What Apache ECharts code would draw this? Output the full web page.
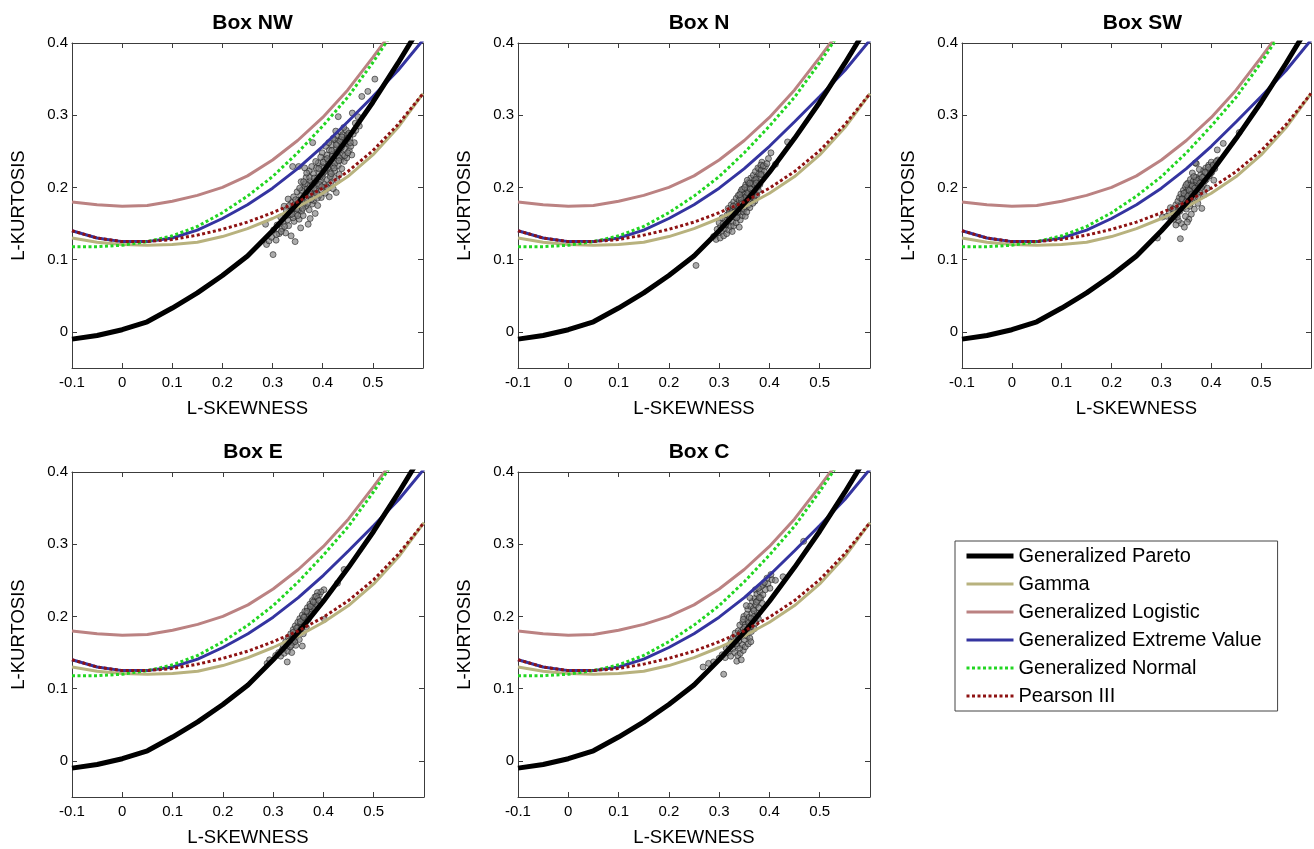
<!DOCTYPE html>
<html><head><meta charset="utf-8">
<script src="https://cdn.jsdelivr.net/npm/echarts@6/dist/echarts.min.js"></script>
<style>html,body{margin:0;padding:0;background:#fff}#c{width:1314px;height:849px}</style>
</head><body><div id="c"></div><script>
// ---- data ----
const skewGrid   = [-0.1,-0.05,0,0.05,0.1,0.15,0.2,0.25,0.3,0.35,0.4,0.45,0.5,0.55,0.6];
const paretoK    = [-0.010,-0.005,0.003,0.014,0.033,0.054,0.078,0.105,0.140,0.178,0.221,0.268,0.318,0.372,0.429];
const gammaK     = [0.130,0.124,0.121,0.120,0.121,0.124,0.132,0.143,0.157,0.173,0.192,0.215,0.245,0.283,0.330];
const logisticK  = [0.180,0.176,0.174,0.175,0.181,0.189,0.200,0.216,0.238,0.265,0.297,0.335,0.380,0.427,0.476];
const gevK       = [0.140,0.130,0.125,0.125,0.130,0.141,0.157,0.176,0.199,0.226,0.257,0.291,0.326,0.362,0.404];
const normalK    = [0.118,0.118,0.120,0.125,0.133,0.146,0.165,0.188,0.215,0.248,0.285,0.325,0.373,0.425,0.480];
const pearsonK   = [0.140,0.130,0.125,0.125,0.128,0.134,0.142,0.152,0.165,0.180,0.199,0.222,0.251,0.287,0.330];

const seriesNames = ['Generalized Pareto','Gamma','Generalized Logistic','Generalized Extreme Value','Generalized Normal','Pearson III'];
const panelTitles = ['Box NW','Box N','Box SW','Box E','Box C'];
const yTickValues = [0,0.1,0.2,0.3,0.4];

const sampleNW = [
[0.301,0.107],[0.288,0.121],[0.293,0.126],[0.298,0.131],[0.307,0.127],[0.313,0.136],[0.302,0.141],[0.286,0.149],[0.319,0.143],[0.326,0.137],[0.309,0.148],[0.332,0.147],[0.345,0.125],[0.321,0.152],[0.337,0.133],[0.371,0.149],[0.356,0.144],[0.343,0.153],
[0.316,0.159],[0.329,0.161],[0.323,0.174],[0.334,0.167],[0.341,0.158],[0.347,0.164],[0.353,0.156],[0.338,0.179],[0.346,0.171],[0.351,0.182],[0.358,0.167],[0.362,0.176],[0.331,0.184],[0.342,0.187],[0.356,0.189],[0.361,0.161],[0.367,0.184],[0.373,0.169],[0.379,0.177],[0.368,0.193],[0.349,0.194],[0.385,0.164],[0.381,0.188],[0.362,0.199],[0.375,0.157],[0.390,0.175],
[0.371,0.204],[0.378,0.197],[0.386,0.196],[0.393,0.189],[0.357,0.208],[0.367,0.214],[0.376,0.209],[0.384,0.207],[0.391,0.202],[0.398,0.196],[0.405,0.192],[0.381,0.219],[0.389,0.213],[0.396,0.210],[0.403,0.204],[0.411,0.199],[0.373,0.223],[0.387,0.227],[0.393,0.220],[0.400,0.218],[0.409,0.211],[0.416,0.206],[0.421,0.198],[0.398,0.230],[0.407,0.224],[0.414,0.221],[0.422,0.214],[0.391,0.234],[0.364,0.227],[0.429,0.209],[0.352,0.229],[0.382,0.182],[0.397,0.186],[0.413,0.187],[0.427,0.193],
[0.404,0.239],[0.412,0.232],[0.419,0.230],[0.424,0.223],[0.433,0.218],[0.408,0.245],[0.417,0.239],[0.422,0.237],[0.431,0.230],[0.438,0.226],[0.413,0.252],[0.420,0.246],[0.429,0.244],[0.436,0.238],[0.443,0.236],[0.418,0.259],[0.427,0.253],[0.432,0.251],[0.441,0.245],[0.448,0.241],[0.425,0.266],[0.430,0.261],[0.439,0.259],[0.444,0.253],[0.453,0.251],[0.428,0.272],[0.437,0.267],[0.442,0.266],[0.451,0.260],[0.456,0.257],[0.435,0.277],[0.440,0.273],[0.449,0.273],[0.454,0.268],[0.447,0.279],[0.452,0.275],[0.461,0.274],[0.399,0.248],[0.406,0.257],[0.463,0.262],[0.458,0.245],[0.466,0.279],
[0.431,0.298],[0.459,0.303],[0.465,0.289],[0.478,0.326],[0.490,0.333],[0.504,0.350],[0.473,0.285],[0.470,0.298],[0.340,0.229],[0.380,0.262],
[0.335,0.162],[0.344,0.176],[0.352,0.169],[0.359,0.181],[0.366,0.174],[0.371,0.189],[0.377,0.183],[0.383,0.199],[0.388,0.192],[0.394,0.204],[0.399,0.214],[0.404,0.222],[0.410,0.227],[0.415,0.215],[0.419,0.243],[0.424,0.233],[0.426,0.248],[0.433,0.241],[0.437,0.255],[0.445,0.262],[0.449,0.268],[0.434,0.264],[0.411,0.236],[0.402,0.227],[0.395,0.215],[0.386,0.209],[0.379,0.204],[0.369,0.198],[0.363,0.187],[0.355,0.178],[0.348,0.170],[0.339,0.163],[0.330,0.155],[0.324,0.146],[0.317,0.139],[0.308,0.135],[0.327,0.169],[0.333,0.175],[0.358,0.196],[0.365,0.205],[0.374,0.214],[0.383,0.213],[0.392,0.226],[0.401,0.235],[0.409,0.240],[0.418,0.251],[0.427,0.259],[0.438,0.270],[0.444,0.244],[0.432,0.237],[0.423,0.227],[0.417,0.219],[0.407,0.201],[0.398,0.201],[0.389,0.185],[0.376,0.191],[0.370,0.178],[0.360,0.171],[0.350,0.161],[0.340,0.171],[0.346,0.183],[0.354,0.199],[0.362,0.208],[0.368,0.220],[0.378,0.229],[0.386,0.236],[0.396,0.242],[0.412,0.262],[0.421,0.268],[0.450,0.248],[0.455,0.262],[0.442,0.283],[0.426,0.278]
];
const sampleN = [
[0.254,0.092],[0.436,0.263],[0.403,0.248],[0.385,0.235],[0.398,0.240],[0.412,0.232],[0.392,0.229],[0.380,0.226],
[0.289,0.132],[0.294,0.128],[0.298,0.137],[0.302,0.130],[0.296,0.142],[0.305,0.139],[0.309,0.133],[0.303,0.146],[0.311,0.143],[0.315,0.136],[0.300,0.151],[0.308,0.150],[0.314,0.148],[0.319,0.141],[0.312,0.155],[0.318,0.153],[0.323,0.146],[0.306,0.158],[0.316,0.162],[0.321,0.157],[0.327,0.152],[0.329,0.147],[0.320,0.166],[0.325,0.162],[0.331,0.159],[0.334,0.151],[0.318,0.171],[0.327,0.168],[0.333,0.165],[0.337,0.160],[0.342,0.155],[0.324,0.176],[0.331,0.172],[0.336,0.170],[0.340,0.166],[0.346,0.161],[0.329,0.180],[0.335,0.177],[0.339,0.175],[0.343,0.171],[0.348,0.166],[0.334,0.185],[0.340,0.182],[0.344,0.179],[0.349,0.177],[0.354,0.172],[0.338,0.189],[0.345,0.187],[0.350,0.183],[0.354,0.181],[0.359,0.176],[0.343,0.194],[0.350,0.191],[0.355,0.189],[0.359,0.186],[0.364,0.181],[0.348,0.198],[0.355,0.197],[0.360,0.193],[0.364,0.191],[0.369,0.186],[0.353,0.204],[0.360,0.201],[0.366,0.199],[0.370,0.194],[0.375,0.190],[0.358,0.207],[0.365,0.206],[0.371,0.203],[0.376,0.200],[0.363,0.213],[0.370,0.210],[0.376,0.209],[0.381,0.204],[0.368,0.217],[0.375,0.215],[0.381,0.214],[0.372,0.222],[0.379,0.219],[0.386,0.218],[0.377,0.227],[0.384,0.224],[0.390,0.222],[0.383,0.231],[0.361,0.172],[0.352,0.160],[0.371,0.181],[0.340,0.145],[0.326,0.139],[0.345,0.197],[0.356,0.210],[0.378,0.196],
[0.331,0.166],[0.338,0.171],[0.346,0.178],[0.352,0.186],[0.357,0.192],[0.362,0.198],[0.368,0.205],[0.373,0.211],[0.322,0.159],[0.313,0.149],[0.343,0.185],[0.349,0.170],[0.358,0.182],[0.366,0.192],[0.374,0.206],[0.383,0.218],[0.335,0.158],[0.328,0.174],[0.341,0.190],[0.351,0.200],[0.361,0.206],[0.367,0.178],[0.355,0.166],[0.388,0.230],[0.395,0.233]
];
const sampleSW = [
[0.338,0.129],[0.456,0.276],[0.424,0.261],[0.412,0.252],[0.370,0.233],[0.292,0.130],[0.302,0.159],[0.381,0.171],[0.355,0.156],[0.368,0.234],
[0.311,0.160],[0.316,0.166],[0.320,0.158],[0.324,0.164],[0.318,0.172],[0.327,0.170],[0.331,0.162],[0.329,0.176],[0.335,0.168],[0.338,0.174],[0.333,0.181],[0.341,0.179],[0.344,0.172],[0.336,0.186],[0.343,0.184],[0.347,0.177],[0.350,0.170],[0.339,0.191],[0.346,0.189],[0.351,0.185],[0.354,0.179],[0.357,0.174],[0.344,0.196],[0.350,0.194],[0.355,0.190],[0.359,0.186],[0.362,0.181],[0.348,0.201],[0.354,0.199],[0.360,0.196],[0.364,0.191],[0.367,0.186],[0.353,0.206],[0.359,0.204],[0.365,0.201],[0.369,0.197],[0.372,0.192],[0.358,0.211],[0.364,0.209],[0.370,0.206],[0.374,0.202],[0.378,0.197],[0.369,0.214],[0.375,0.212],[0.380,0.208],[0.384,0.203],[0.379,0.218],[0.385,0.215],[0.390,0.211],[0.384,0.223],[0.391,0.220],[0.396,0.216],[0.389,0.227],[0.396,0.225],[0.401,0.221],[0.395,0.231],[0.402,0.229],[0.407,0.226],[0.400,0.235],[0.408,0.233],[0.413,0.238],[0.340,0.150],[0.346,0.145],[0.352,0.152],[0.334,0.154],[0.360,0.163],[0.366,0.170],[0.373,0.178],[0.329,0.148],[0.325,0.156],[0.348,0.160],[0.386,0.190],[0.392,0.199],[0.405,0.210],[0.376,0.225],[0.362,0.220],
[0.341,0.184],[0.349,0.180],[0.356,0.196],[0.362,0.202],[0.370,0.210],[0.377,0.206],[0.382,0.214],[0.388,0.221],[0.394,0.228],[0.398,0.219],[0.337,0.167],[0.345,0.192],[0.353,0.188],[0.361,0.191],[0.367,0.199],[0.373,0.187],[0.380,0.200],[0.387,0.209],[0.404,0.231],[0.410,0.236],[0.332,0.159],[0.323,0.170],[0.358,0.178],[0.350,0.204],[0.365,0.215]
];
const sampleE = [
[0.441,0.265],[0.428,0.246],[0.288,0.135],[0.293,0.140],[0.328,0.137],[0.402,0.196],[0.358,0.159],[0.401,0.237],
[0.305,0.146],[0.311,0.150],[0.315,0.145],[0.318,0.154],[0.322,0.149],[0.320,0.160],[0.326,0.157],[0.329,0.152],[0.325,0.165],[0.331,0.163],[0.334,0.158],[0.330,0.171],[0.336,0.168],[0.339,0.164],[0.335,0.176],[0.341,0.174],[0.344,0.170],[0.340,0.182],[0.346,0.179],[0.349,0.175],[0.344,0.187],[0.350,0.185],[0.353,0.181],[0.349,0.192],[0.355,0.190],[0.358,0.186],[0.353,0.197],[0.359,0.195],[0.362,0.191],[0.358,0.202],[0.364,0.200],[0.367,0.196],[0.363,0.207],[0.369,0.205],[0.372,0.201],[0.368,0.212],[0.374,0.210],[0.377,0.206],[0.373,0.217],[0.379,0.215],[0.382,0.211],[0.378,0.222],[0.384,0.220],[0.387,0.216],[0.383,0.227],[0.389,0.225],[0.392,0.230],[0.395,0.234],[0.388,0.233],[0.337,0.150],[0.345,0.160],[0.360,0.176],[0.352,0.168],[0.366,0.185],
[0.340,0.178],[0.347,0.184],[0.354,0.193],[0.361,0.199],[0.367,0.207],[0.374,0.214],[0.380,0.220],[0.386,0.228],[0.356,0.183],[0.343,0.165],[0.336,0.160],[0.370,0.196],[0.376,0.203],[0.391,0.222],[0.332,0.166]
];
const sampleC = [
[0.468,0.304],[0.309,0.120],[0.268,0.130],[0.279,0.135],[0.289,0.137],[0.372,0.237],[0.405,0.251],[0.412,0.250],[0.427,0.255],[0.388,0.244],
[0.300,0.142],[0.306,0.147],[0.312,0.143],[0.318,0.150],[0.323,0.145],[0.314,0.156],[0.320,0.160],[0.327,0.155],[0.331,0.150],[0.337,0.146],[0.342,0.149],[0.348,0.153],[0.324,0.165],[0.330,0.163],[0.336,0.159],[0.341,0.156],[0.346,0.161],[0.352,0.158],[0.358,0.162],[0.328,0.171],[0.334,0.169],[0.339,0.166],[0.344,0.172],[0.350,0.168],[0.355,0.173],[0.361,0.170],[0.332,0.177],[0.338,0.180],[0.343,0.178],[0.348,0.183],[0.353,0.180],[0.358,0.184],[0.364,0.179],[0.370,0.183],[0.341,0.188],[0.347,0.192],[0.352,0.189],[0.357,0.194],[0.362,0.190],[0.367,0.195],[0.373,0.191],[0.349,0.200],[0.355,0.203],[0.360,0.199],[0.365,0.204],[0.370,0.200],[0.376,0.205],[0.357,0.210],[0.362,0.214],[0.368,0.211],[0.373,0.216],[0.379,0.212],[0.366,0.221],[0.371,0.225],[0.377,0.222],[0.383,0.226],[0.375,0.231],[0.381,0.234],[0.387,0.230],[0.392,0.237],[0.384,0.242],[0.397,0.245],[0.401,0.239],[0.395,0.253],[0.403,0.258],[0.335,0.138],[0.344,0.140],[0.363,0.165],[0.378,0.197],[0.386,0.218],[0.354,0.215],[0.361,0.226],
[0.345,0.176],[0.351,0.185],[0.359,0.191],[0.364,0.197],[0.369,0.208],[0.374,0.220],[0.380,0.226],[0.339,0.172],[0.334,0.162],[0.356,0.178],[0.363,0.186],[0.348,0.196],[0.390,0.247],[0.378,0.239]
];

// ---- layout / style ----
const FONT = "'Liberation Sans', Arial, Helvetica, sans-serif";
const AX = '#3c3c3c';
const panels = [
  {left:72,  top:43,  width:351, samples:sampleNW},
  {left:518, top:43,  width:352, samples:sampleN},
  {left:962, top:43,  width:351, samples:sampleSW},
  {left:72,  top:472, width:352, samples:sampleE},
  {left:518, top:472, width:352, samples:sampleC}
];
const PH = 325;
const curveDefs = [
  {name:seriesNames[1], vals:gammaK,    color:'#b8b27e', width:3,   type:'solid'},
  {name:seriesNames[2], vals:logisticK, color:'#bb8282', width:3,   type:'solid'},
  {name:seriesNames[3], vals:gevK,      color:'#3434a0', width:3,   type:'solid'},
  {name:seriesNames[0], vals:paretoK,   color:'#000000', width:5,   type:'solid'},
  {name:seriesNames[4], vals:normalK,   color:'#22d622', width:3,   type:[3,2.5]},
  {name:seriesNames[5], vals:pearsonK,  color:'#8e1212', width:3,   type:[3,2.5]}
];

function fmt(v){ const r = Math.round(v*10)/10; if (r > 0.55) return ''; return r === 0 ? '0' : String(r); }

const grid=[], xAxis=[], yAxis=[], series=[], title=[];
panels.forEach((p,i)=>{
  grid.push({left:p.left, top:p.top, width:p.width, height:PH});
  title.push({text:panelTitles[i], left:p.left + p.width/2, top:p.top - 35, textAlign:'center',
    textStyle:{fontSize:21, fontWeight:'bold', color:'#000', fontFamily:FONT}});
  const common = {gridIndex:i, type:'value', splitLine:{show:false},
    axisLine:{show:true, onZero:false, lineStyle:{color:AX, width:1}},
    axisTick:{inside:true, length:5, lineStyle:{color:AX}}};
  xAxis.push(Object.assign({}, common, {position:'bottom', min:-0.1, max:0.6, interval:0.1,
    name:'L-SKEWNESS', nameLocation:'middle', nameGap:31,
    nameTextStyle:{fontSize:18.5, color:'#000', fontFamily:FONT},
    axisLabel:{fontSize:15, color:'#000', fontFamily:FONT, margin:7, formatter:fmt, showMinLabel:true, showMaxLabel:true}}));
  xAxis.push(Object.assign({}, common, {position:'top', min:-0.1, max:0.6, interval:0.1, axisLabel:{show:false}}));
  yAxis.push(Object.assign({}, common, {position:'left', min:-0.05, max:0.4,
    name:'L-KURTOSIS', nameLocation:'middle', nameGap:44,
    nameTextStyle:{fontSize:18.5, color:'#000', fontFamily:FONT},
    axisTick:{inside:true, length:5, lineStyle:{color:AX}, customValues:yTickValues},
    axisLabel:{fontSize:15, color:'#000', fontFamily:FONT, margin:4, formatter:fmt, customValues:yTickValues}}));
  yAxis.push(Object.assign({}, common, {position:'right', min:-0.05, max:0.4,
    axisTick:{inside:true, length:5, lineStyle:{color:AX}, customValues:yTickValues},
    axisLabel:{show:false}}));
  curveDefs.forEach(c=>{
    series.push({type:'line', name:c.name, xAxisIndex:2*i, yAxisIndex:2*i,
      data: skewGrid.map((x,k)=>[x, c.vals[k]]), symbol:'none', clip:true, silent:true,
      lineStyle:{color:c.color, width:c.width, type:c.type}, itemStyle:{color:c.color}});
  });
  series.push({type:'scatter', name:'L-moment ratios', xAxisIndex:2*i, yAxisIndex:2*i,
    data:p.samples, symbolSize:6, silent:true,
    itemStyle:{color:'rgba(125,125,125,0.8)', borderColor:'rgba(25,25,25,0.9)', borderWidth:0.8}});
});

const chart = echarts.init(document.getElementById('c'), null, {renderer:'canvas'});
chart.setOption({
  animation:false, backgroundColor:'#fff',
  title, grid, xAxis, yAxis, series,
  legend:{data:seriesNames, orient:'vertical', left:955, top:541, padding:[5,16,5,9],
    itemGap:8, itemWidth:47, itemHeight:14, borderColor:'#444', borderWidth:1, selectedMode:false,
    textStyle:{fontSize:20, color:'#000', fontFamily:FONT, lineHeight:20},
    itemStyle:{opacity:0}, lineStyle:{width:'inherit'}}
});
</script></body></html>
